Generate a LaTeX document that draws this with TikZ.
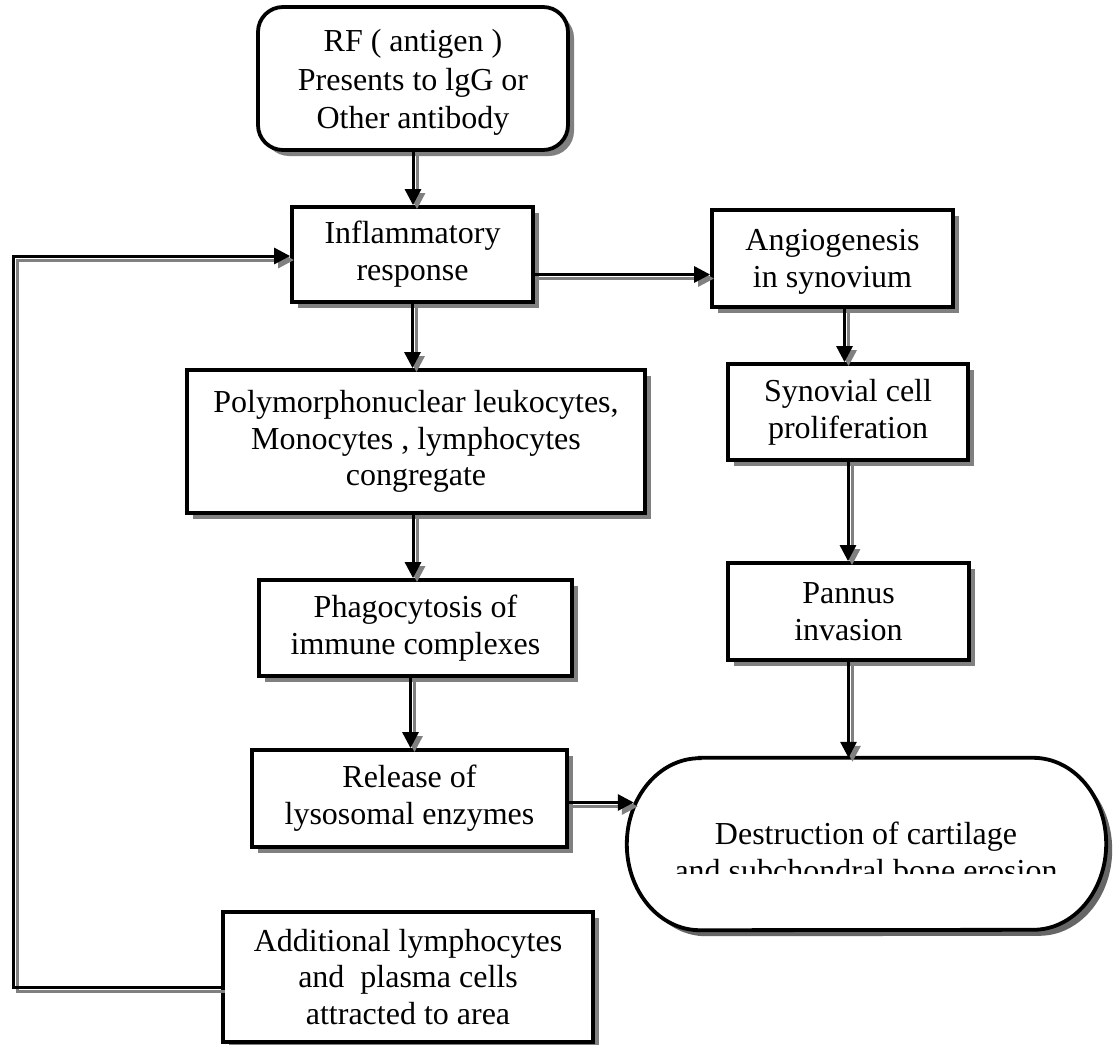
\documentclass[tikz,border=0pt]{standalone}
\usepackage{fontspec}
\setmainfont{Liberation Serif}
\usetikzlibrary{arrows.meta,shadows,calc}
\newcommand{\shconn}[1]{%
  \begin{scope}[transform canvas={shift={(4pt,-4pt)}}]\draw[sline] #1;\end{scope}
  \draw[bline] #1;}
\begin{document}
\begin{tikzpicture}[x=1pt,y=-1pt,
  txt/.style={font=\fontsize{32}{36.8}\selectfont, align=center},
  box/.style={txt, draw=black, line width=3.8pt, fill=white, inner sep=0pt,
     drop shadow={shadow xshift=6pt, shadow yshift=-6pt, fill=black!50, opacity=1}},
  bline/.style={draw=black, line width=3pt, line join=miter, -{Triangle[length=16pt,width=16pt]}},
  sline/.style={draw=black!50, line width=3pt, line join=miter, -{Triangle[length=16pt,width=16pt]}},
]
\useasboundingbox (0,0) rectangle (1116,1044);
\fill[white] (0,0) rectangle (1116,1044);

\node[box, rounded corners=25pt, minimum width=310pt, minimum height=143pt,
      font=\fontsize{32}{38.5}\selectfont] (rf) at (413,78.5)
  {\rule{0pt}{30pt}RF ( antigen )\\Presents to lgG or\\Other antibody};
\node[box, minimum width=241pt, minimum height=95pt] (inf) at (412.5,254.5) {Inflammatory\\response};
\node[box, minimum width=241pt, minimum height=97pt] (ang) at (832.5,258.5) {\rule{0pt}{28pt}Angiogenesis\\in synovium};
\node[box, minimum width=240pt, minimum height=96pt] (syn) at (848,412) {Synovial cell\\proliferation};
\node[box, minimum width=241pt, minimum height=97pt] (pan) at (848.5,611.5) {Pannus\\invasion};
\node[box, minimum width=458pt, minimum height=143pt] (poly) at (416,441.5)
  {Polymorphonuclear leukocytes,\\Monocytes , lymphocytes\\congregate};
\node[box, minimum width=313pt, minimum height=96pt] (pha) at (415.5,628) {Phagocytosis of\\immune complexes};
\node[box, minimum width=315pt, minimum height=97pt] (rel) at (409.5,798.5) {Release of\\lysosomal enzymes};
\node[box, minimum width=370pt, minimum height=130pt] (add) at (408,977)
  {Additional lymphocytes\\and~~plasma cells\\attracted to area};

% destruction terminator shape
\node[inner sep=0pt, minimum width=479pt, minimum height=172pt] (dest) at (866.5,844) {};
\begin{scope}[transform canvas={shift={(6pt,-6pt)}}]
  \fill[black!60] ([xshift=73pt]dest.north west) -- ([xshift=-73pt]dest.north east)
    arc[start angle=90, end angle=-90, x radius=73pt, y radius=86pt]
    -- ([xshift=73pt]dest.south west)
    arc[start angle=270, end angle=90, x radius=73pt, y radius=86pt] -- cycle;
\end{scope}
\draw[line width=3.8pt, fill=white] ([xshift=73pt]dest.north west) -- ([xshift=-73pt]dest.north east)
    arc[start angle=90, end angle=-90, x radius=73pt, y radius=86pt]
    -- ([xshift=73pt]dest.south west)
    arc[start angle=270, end angle=90, x radius=73pt, y radius=86pt] -- cycle;
\begin{scope}
  \clip (627,758) rectangle (1110,873);
  \node[txt, inner sep=0pt] (dtext) at (866,852) {Destruction of cartilage\\and subchondral bone erosion};
\end{scope}

% helper coordinates
\path ([yshift=-20pt]inf.east) coordinate (ia);
\path ([yshift=-4pt]rel.east) coordinate (rx);
\path ([xshift=7pt]dest.west) coordinate (dx);
\path ([yshift=-10pt]add.west) coordinate (fa);
\coordinate (fbx) at (13,0);
\path ([xshift=-3pt]poly.south) coordinate (ps);
\path ([xshift=-5pt]pha.south) coordinate (phs);
\path ([xshift=12pt]ang.south) coordinate (as);

% connectors
\shconn{(rf.south) -- (rf.south |- inf.north)}
\shconn{(inf.south) -- (inf.south |- poly.north)}
\shconn{(ps) -- (ps |- pha.north)}
\shconn{(phs) -- (phs |- rel.north)}
\shconn{(ia) -- (ia -| ang.west)}
\shconn{(as) -- (as |- syn.north)}
\shconn{(syn.south) -- (syn.south |- pan.north)}
\shconn{(pan.south) -- (pan.south |- dest.north)}
\shconn{(rx) -- (rx -| dx)}
\shconn{(fa) -- (fa -| fbx) |- ([yshift=-1.5pt]inf.west)}
\end{tikzpicture}
\end{document}
